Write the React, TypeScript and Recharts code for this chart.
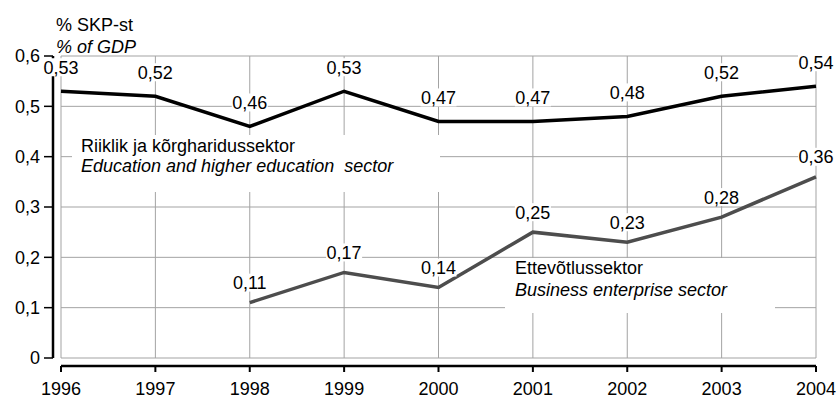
import { LineChart, Line, XAxis, YAxis, ReferenceLine, LabelList } from 'recharts'

const years = [1996, 1997, 1998, 1999, 2000, 2001, 2002, 2003, 2004]
const eduValues = [0.53, 0.52, 0.46, 0.53, 0.47, 0.47, 0.48, 0.52, 0.54]
const bizValues = [null, null, 0.11, 0.17, 0.14, 0.25, 0.23, 0.28, 0.36]
const yTicks = [0, 0.1, 0.2, 0.3, 0.4, 0.5, 0.6]

const eduLabel = ['Riiklik ja kõrgharidussektor', 'Education and higher education  sector']
const bizLabel = ['Ettevõtlussektor', 'Business enterprise sector']
const yTitle = ['% SKP-st', '% of GDP']

const FONT = '"Liberation Sans", Arial, Helvetica, sans-serif'
const GRID = '#a3a3a3'

const data = years.map((year, i) => ({ year, edu: eduValues[i], biz: bizValues[i] }))

const fmt = (v: number) => (v === 0 ? '0' : String(v).replace('.', ','))

// value label with a white box behind it, like the original
const valueLabel = (lift: number) => (props: any) => {
  const { x, y, value } = props
  if (value == null) return null
  const text = Number(value).toFixed(2).replace('.', ',')
  const cy = y - lift
  const w = 36
  return (
    <g>
      <rect x={x - w / 2} y={cy - 9} width={w} height={18} fill="#fff" />
      <text x={x} y={cy} dy="0.36em" textAnchor="middle" fontSize={18} fontFamily={FONT} fill="#000">
        {text}
      </text>
    </g>
  )
}

const textStyle = { fontFamily: FONT, fontSize: 18, color: '#000', whiteSpace: 'pre' as const }

export default function App() {
  return (
    <div style={{ position: 'absolute', left: 0, top: 0, width: 840, height: 399, background: '#fff' }}>
      <LineChart width={840} height={399} data={data} margin={{ top: 56, right: 24, bottom: 0, left: 0 }}>
        <XAxis
          dataKey="year"
          type="number"
          domain={[1996, 2004]}
          ticks={years}
          interval={0}
          padding={{ left: 8, right: 0 }}
          height={33}
          tickSize={6}
          tickMargin={10}
          axisLine={{ stroke: '#000', strokeWidth: 2.5, strokeDasharray: '0 8 2000' }}
          tickLine={{ stroke: '#000', strokeWidth: 2 }}
          tick={{ fill: '#000', fontSize: 18, fontFamily: FONT }}
        />
        <YAxis
          type="number"
          domain={[0, 0.6]}
          ticks={yTicks}
          interval={0}
          padding={{ top: 0, bottom: 8 }}
          width={53}
          tickSize={9}
          tickMargin={4}
          tickFormatter={fmt}
          axisLine={{ stroke: '#000', strokeWidth: 2.5, strokeDasharray: '302 2000' }}
          tickLine={{ stroke: '#000', strokeWidth: 1.5 }}
          tick={{ fill: '#000', fontSize: 18, fontFamily: FONT }}
        />
        {yTicks.map(t => (
          <ReferenceLine key={'h' + t} segment={[{ x: 1996, y: t }, { x: 2004, y: t }]} stroke={GRID} strokeWidth={1} />
        ))}
        {years.map(yr => (
          <ReferenceLine key={'v' + yr} segment={[{ x: yr, y: 0 }, { x: yr, y: 0.6 }]} stroke={GRID} strokeWidth={1} />
        ))}
        <Line
          type="linear"
          dataKey="edu"
          stroke="#000"
          strokeWidth={3.5}
          dot={false}
          activeDot={false}
          isAnimationActive={false}
        >
          <LabelList dataKey="edu" content={valueLabel(24)} />
        </Line>
        <Line
          type="linear"
          dataKey="biz"
          stroke="#4d4d4d"
          strokeWidth={3.5}
          dot={false}
          activeDot={false}
          connectNulls={false}
          isAnimationActive={false}
        >
          <LabelList dataKey="biz" content={valueLabel(20)} />
        </Line>
      </LineChart>

      <div style={{ ...textStyle, position: 'absolute', left: 56, top: 15, lineHeight: '21.6px' }}>
        <div>{yTitle[0]}</div>
        <div style={{ fontStyle: 'italic' }}>{yTitle[1]}</div>
      </div>

      <div
        style={{
          ...textStyle,
          position: 'absolute',
          left: 72,
          top: 135,
          width: 368,
          height: 57,
          boxSizing: 'border-box',
          padding: '1px 0 0 9px',
          background: '#fff',
          lineHeight: '20px',
        }}
      >
        <div>{eduLabel[0]}</div>
        <div style={{ fontStyle: 'italic' }}>{eduLabel[1]}</div>
      </div>

      <div
        style={{
          ...textStyle,
          position: 'absolute',
          left: 505,
          top: 258,
          width: 270,
          height: 55,
          boxSizing: 'border-box',
          padding: '0 0 0 10px',
          background: '#fff',
          lineHeight: '21.7px',
        }}
      >
        <div>{bizLabel[0]}</div>
        <div style={{ fontStyle: 'italic' }}>{bizLabel[1]}</div>
      </div>
    </div>
  )
}
